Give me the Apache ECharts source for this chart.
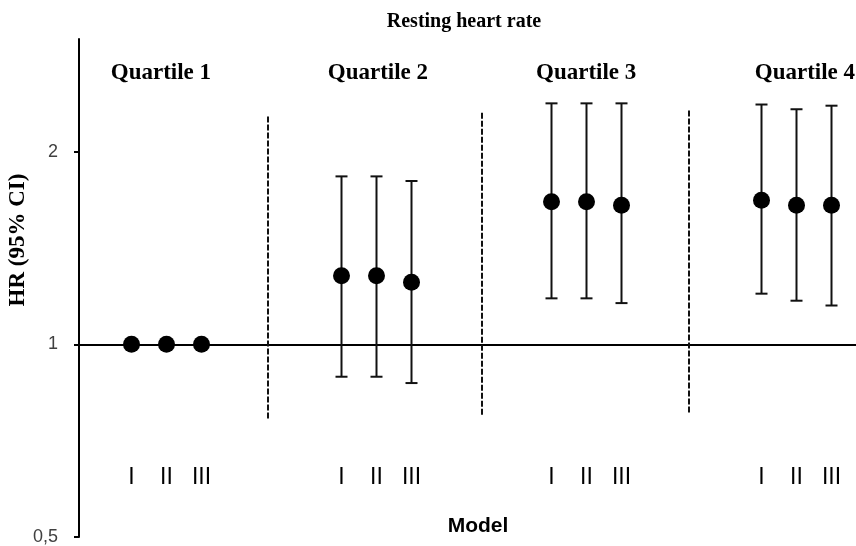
<!DOCTYPE html>
<html>
<head>
<meta charset="utf-8">
<script src="https://cdn.jsdelivr.net/npm/echarts@6/dist/echarts.min.js"></script>
<style>
  html, body { margin: 0; padding: 0; background: #fff; }
  #chart { width: 856px; height: 546px; }
</style>
</head>
<body>
<div id="chart"></div>
<script>
// Hazard ratios for resting heart rate quartiles, three adjustment models each
const quartiles = ['Quartile 1', 'Quartile 2', 'Quartile 3', 'Quartile 4'];
const models = ['I', 'II', 'III'];

const hr = [
  [1.00, 1.00, 1.00],
  [1.28, 1.28, 1.25],
  [1.67, 1.67, 1.65],
  [1.68, 1.65, 1.65]
];
const ciLower = [
  [null, null, null],
  [0.89, 0.89, 0.87],
  [1.18, 1.18, 1.16],
  [1.20, 1.17, 1.15]
];
const ciUpper = [
  [null, null, null],
  [1.83, 1.83, 1.80],
  [2.38, 2.38, 2.38],
  [2.37, 2.33, 2.36]
];

// Dashed separators between quartile groups (x position, top, bottom in HR units)
const sepX = [5.39, 11.5, 17.43];
const sepTop = [2.27, 2.30, 2.32];
const sepBottom = [0.761, 0.775, 0.780];

const yTicks = [0.5, 1, 2];

// layout: each group spans 6 x-units, models 1 unit apart; heading centres per group
const xOf = (g, m) => 1.5 + g * 6 + m;
const headingX = [2.34, 8.54, 14.49, 20.74];

const pointData = [];
const barData = [];
const modelLabelData = [];
const groupLabelData = [];
quartiles.forEach((q, g) => {
  models.forEach((name, m) => {
    pointData.push([xOf(g, m), hr[g][m]]);
    if (ciLower[g][m] != null) barData.push([xOf(g, m), ciLower[g][m], ciUpper[g][m]]);
    modelLabelData.push({ name: name, value: [xOf(g, m), 0.618] });
  });
  groupLabelData.push({ name: q, value: [headingX[g], 2.656] });
});

const sepLines = sepX.map((x, i) => [
  { coord: [x, sepTop[i]] },
  { coord: [x, sepBottom[i]] }
]);

const chart = echarts.init(document.getElementById('chart'), null, { renderer: 'canvas' });

chart.setOption({
  animation: false,
  title: [
    {
      text: 'Resting heart rate',
      left: 459, top: 7, textAlign: 'center',
      textStyle: { fontFamily: 'Liberation Serif', fontWeight: 'bold', fontSize: 20, color: '#000' }
    },
    {
      text: 'Model',
      left: 473, top: 511, textAlign: 'center',
      textStyle: { fontFamily: 'Liberation Sans', fontWeight: 'bold', fontSize: 21, color: '#000' }
    }
  ],
  graphic: [
    {
      type: 'text',
      x: 7, y: 240,
      rotation: Math.PI / 2,
      style: {
        text: 'HR (95% CI)',
        font: 'bold 23px "Liberation Serif"',
        fill: '#000',
        align: 'center',
        verticalAlign: 'top'
      }
    }
  ],
  grid: { left: 79, right: 0, top: 39, bottom: 9 },
  xAxis: {
    type: 'value', min: 0, max: 22.2,
    show: false
  },
  yAxis: {
    type: 'log', logBase: 2, min: 0.5, max: 3,
    axisLine: { show: true, lineStyle: { color: '#000', width: 2 } },
    axisTick: { show: true, length: 5, lineStyle: { color: '#000', width: 2 } },
    axisLabel: {
      showMaxLabel: false,
      margin: 21,
      fontFamily: 'Liberation Sans', fontSize: 18, color: '#404040',
      formatter: v => {
        const r = Math.round(v * 100) / 100;
        return yTicks.indexOf(r) >= 0 ? String(r).replace('.', ',') : '';
      }
    },
    splitLine: { show: false }
  },
  series: [
    {
      type: 'custom',
      name: 'CI',
      z: 2,
      data: barData,
      renderItem: (params, api) => {
        const x = api.value(0);
        const lo = api.coord([x, api.value(1)]);
        const hi = api.coord([x, api.value(2)]);
        const cap = 6;
        const style = { stroke: '#111', lineWidth: 2 };
        return {
          type: 'group',
          children: [
            { type: 'line', shape: { x1: lo[0], y1: lo[1], x2: hi[0], y2: hi[1] }, style },
            { type: 'line', shape: { x1: hi[0] - cap, y1: hi[1], x2: hi[0] + cap, y2: hi[1] }, style },
            { type: 'line', shape: { x1: lo[0] - cap, y1: lo[1], x2: lo[0] + cap, y2: lo[1] }, style }
          ]
        };
      }
    },
    {
      type: 'scatter',
      name: 'HR',
      z: 5,
      symbol: 'circle',
      symbolSize: 17,
      itemStyle: { color: '#000', opacity: 1 },
      data: pointData,
      markLine: {
        silent: true,
        symbol: 'none',
        z: 1,
        label: { show: false },
        data: [
          [{ coord: [0, 1], lineStyle: { type: 'solid', color: '#000', width: 2 } }, { coord: [22.2, 1] }],
          ...sepLines
        ],
        lineStyle: { color: '#111', width: 2, type: [6, 2], opacity: 1 }
      }
    },
    {
      type: 'scatter',
      name: 'models',
      symbolSize: 0,
      silent: true,
      itemStyle: { opacity: 1 },
      data: modelLabelData,
      label: {
        show: true, position: 'inside',
        formatter: p => p.name,
        fontFamily: 'Liberation Sans', fontSize: 23, color: '#000', opacity: 1
      }
    },
    {
      type: 'scatter',
      name: 'groups',
      symbolSize: 0,
      silent: true,
      itemStyle: { opacity: 1 },
      data: groupLabelData,
      label: {
        show: true, position: 'inside',
        formatter: p => p.name,
        fontFamily: 'Liberation Serif', fontWeight: 'bold', fontSize: 23, color: '#000', opacity: 1
      }
    }
  ]
});
</script>
</body>
</html>
